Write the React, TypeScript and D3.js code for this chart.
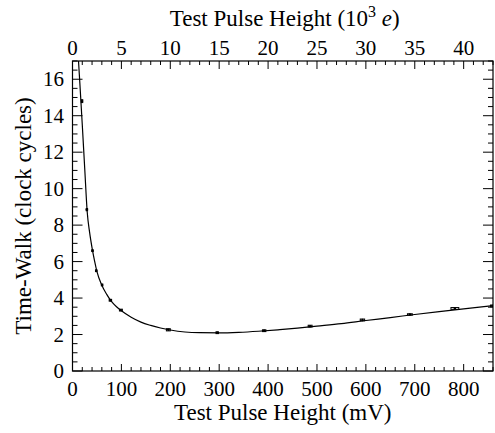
import React from "react";
import * as d3 from "d3";

const curveMv = [10, 12.5, 15, 20, 25, 30, 35, 40, 45, 50, 60, 70, 80, 90, 100, 120, 140, 160, 180, 200, 230, 260, 300, 340, 380, 420, 460, 500, 550, 600, 650, 700, 750, 800, 860];
const curveCycles = [18.1, 16.9, 15.8, 13.5, 11.1, 8.75, 7.6, 6.75, 6.05, 5.45, 4.7, 4.2, 3.8, 3.52, 3.3, 2.95, 2.68, 2.5, 2.36, 2.25, 2.14, 2.1, 2.09, 2.12, 2.18, 2.26, 2.35, 2.46, 2.6, 2.77, 2.93, 3.1, 3.26, 3.41, 3.58];

const pointMv = [19.5, 29.4, 40.9, 48.5, 60.5, 77.5, 99, 196, 296, 392, 486, 593, 690, 782, 859];
const pointCycles = [14.8, 8.85, 6.6, 5.5, 4.72, 3.88, 3.34, 2.26, 2.1, 2.21, 2.46, 2.8, 3.1, 3.43, 3.57];
const pointXErr = [1.5, 1.5, 1.5, 1.5, 1.5, 2.5, 3, 4, 2.5, 3.5, 4, 4.5, 5, 8, 4];
const pointYErr = [0.08, 0.06, 0.05, 0.05, 0.05, 0.05, 0.05, 0.06, 0.05, 0.05, 0.05, 0.05, 0.04, 0.05, 0.05];

const bottomMajor = [0, 100, 200, 300, 400, 500, 600, 700, 800];
const topMajor = [0, 5, 10, 15, 20, 25, 30, 35, 40];
const yMajor = [0, 2, 4, 6, 8, 10, 12, 14, 16];

const W = 495, H = 433;
const L = 72.5, R = 493, T = 61, B = 371;
const FONT = "Liberation Serif, DejaVu Serif, serif";
const FS = 21;
const FT = 23;

export default function App() {
  const x = d3.scaleLinear().domain([0, 860]).range([L, R]);
  const xTop = d3.scaleLinear().domain([0, 43]).range([L, R]);
  const y = d3.scaleLinear().domain([0, 17]).range([B, T]);

  const bottomMinor = d3.range(0, 861, 20).filter((v) => v % 100 !== 0);
  const topMinor = d3.range(0, 43.01, 1).filter((v) => v % 5 !== 0);
  const yMinor = d3.range(0, 17.01, 0.5).filter((v) => v % 2 !== 0);

  const line = d3
    .line<number>()
    .x((_, i) => x(curveMv[i]))
    .y((d) => y(d))
    .curve(d3.curveMonotoneX);

  const tickStyle = { stroke: "#000", strokeWidth: 1 };
  const textStyle: React.CSSProperties = { fontFamily: FONT, fontSize: FS };
  const titleStyle: React.CSSProperties = { fontFamily: FONT, fontSize: FT };

  return (
    <div style={{ position: "fixed", left: 0, top: 0 }}>
      <svg width={W} height={H} style={{ display: "block", background: "#fff" }}>
        <defs>
          <clipPath id="plotclip">
            <rect x={L} y={T} width={R - L} height={B - T} />
          </clipPath>
        </defs>
        {bottomMajor.map((v) => (
          <line key={"bM" + v} x1={x(v)} x2={x(v)} y1={B} y2={B - 7} {...tickStyle} />
        ))}
        {bottomMinor.map((v) => (
          <line key={"bm" + v} x1={x(v)} x2={x(v)} y1={B} y2={B - 4} {...tickStyle} />
        ))}
        {topMajor.map((v) => (
          <line key={"tM" + v} x1={xTop(v)} x2={xTop(v)} y1={T} y2={T + 8} {...tickStyle} />
        ))}
        {topMinor.map((v) => (
          <line key={"tm" + v} x1={xTop(v)} x2={xTop(v)} y1={T} y2={T + 4} {...tickStyle} />
        ))}
        {yMajor.map((v) => (
          <g key={"yM" + v}>
            <line x1={L} x2={L + 10} y1={y(v)} y2={y(v)} {...tickStyle} />
            <line x1={R} x2={R - 10} y1={y(v)} y2={y(v)} {...tickStyle} />
          </g>
        ))}
        {yMinor.map((v) => (
          <g key={"ym" + v}>
            <line x1={L} x2={L + 5} y1={y(v)} y2={y(v)} {...tickStyle} />
            <line x1={R} x2={R - 5} y1={y(v)} y2={y(v)} {...tickStyle} />
          </g>
        ))}
        <rect x={L} y={T} width={R - L} height={B - T} fill="none" stroke="#000" strokeWidth={1.2} />
        <g clipPath="url(#plotclip)">
          <path d={line(curveCycles) || ""} fill="none" stroke="#000" strokeWidth={1.2} />
          {pointMv.map((v, i) => {
            const x0 = x(v - pointXErr[i]);
            const x1 = x(v + pointXErr[i]);
            const y0 = y(pointCycles[i] + pointYErr[i]);
            const y1 = y(pointCycles[i] - pointYErr[i]);
            return (
              <g key={"p" + i}>
                <rect x={x0} y={y0} width={x1 - x0} height={y1 - y0} fill="none" stroke="#000" strokeWidth={1} />
                <circle cx={x(v)} cy={y(pointCycles[i])} r={1.2} fill="#000" />
              </g>
            );
          })}
        </g>
        {bottomMajor.map((v) => (
          <text key={"bl" + v} x={x(v)} y={396} textAnchor="middle" style={textStyle}>
            {v}
          </text>
        ))}
        {topMajor.map((v) => (
          <text key={"tl" + v} x={xTop(v)} y={55} textAnchor="middle" style={textStyle}>
            {v}
          </text>
        ))}
        {yMajor.map((v) => (
          <text key={"yl" + v} x={64} y={y(v) + 7} textAnchor="end" style={textStyle}>
            {v}
          </text>
        ))}
        <text x={(L + R) / 2} y={419.5} textAnchor="middle" style={titleStyle}>
          Test Pulse Height (mV)
        </text>
        <text x={(L + R) / 2 + 2} y={26} textAnchor="middle" style={titleStyle}>
          Test Pulse Height (10
          <tspan style={{ fontSize: 16 }} dy={-9}>3</tspan>
          <tspan dy={9}> </tspan>
          <tspan style={{ fontStyle: "italic" }}>e</tspan>)
        </text>
        <text
          transform={`translate(31, ${(T + B) / 2}) rotate(-90)`}
          textAnchor="middle"
          style={titleStyle}
        >
          Time-Walk (clock cycles)
        </text>
      </svg>
    </div>
  );
}
